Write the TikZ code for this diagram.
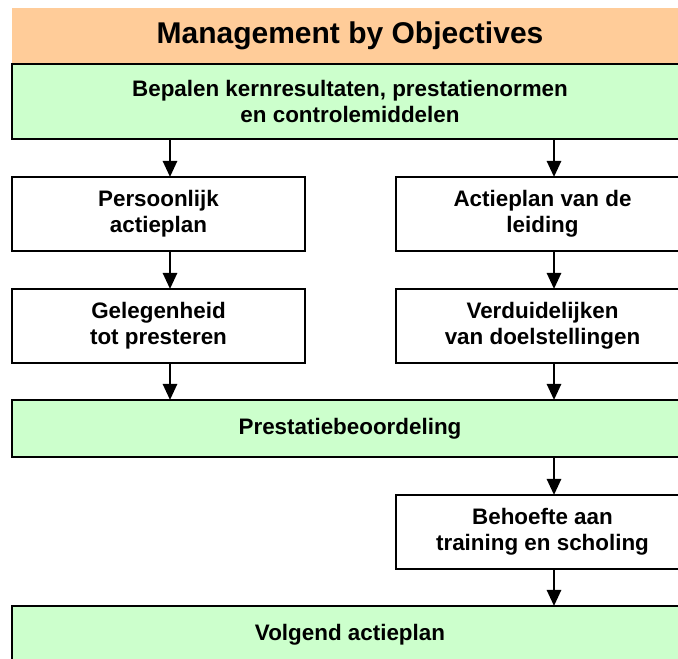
\documentclass[tikz,border=0pt]{standalone}
\usepackage{fontspec}
\setmainfont{Liberation Sans}
\usetikzlibrary{positioning,arrows.meta}
\definecolor{oranje}{HTML}{FFCC99}
\definecolor{groen}{HTML}{CCFFCC}

\begin{document}
\begin{tikzpicture}
[x=1pt, y=1pt, inner sep=0pt, outer sep=0pt,
 breed/.style={draw, line width=1.6pt, fill=groen, minimum width=676pt, align=center,
   font=\bfseries\fontsize{22.4}{26}\selectfont},
 vak/.style={draw, line width=1.6pt, fill=white, minimum width=293pt, minimum height=74pt, align=center,
   font=\bfseries\fontsize{22.4}{26}\selectfont},
 pijl/.style={line width=2.6pt, -{Triangle[width=14pt,length=16pt]}}]
%[node distance = 38 pt]
\clip (0,0) rectangle (678,659);

\node (titel)[fill=oranje, minimum width=676pt, minimum height=56pt, anchor=north west,
  font=\bfseries\fontsize{30}{36}\selectfont] at (12,651) {Management by Objectives};
\node (kern)[breed, minimum height=75pt, below right = 0pt and 0pt of titel.south west]
  {Bepalen kernresultaten, prestatienormen\\en controlemiddelen};

\node (pers)[vak, below right = 38pt and 0pt of kern.south west] {Persoonlijk\\actieplan};
\node (geleg)[vak, below = 38pt of pers] {Gelegenheid\\tot presteren};
\node (actie)[vak, right = 91pt of pers] {Actieplan van de\\leiding};
\node (verd)[vak, below = 38pt of actie] {Verduidelijken\\van doelstellingen};

\node (prest)[breed, minimum height=57pt, below right = 37pt and 0pt of geleg.south west]
  {Prestatiebeoordeling};
\node (behoefte)[vak, below right = 38pt and 384pt of prest.south west]
  {Behoefte aan\\training en scholing};
\node (volgend)[breed, minimum height=57pt, below right = 37pt and -384pt of behoefte.south west]
  {Volgend actieplan};

\draw[pijl] ([xshift=11.5pt]pers.north |- kern.south) -- ([xshift=11.5pt]pers.north);
\draw[pijl] ([xshift=11.5pt]actie.north |- kern.south) -- ([xshift=11.5pt]actie.north);
\draw[pijl] ([xshift=11.5pt]pers.south) -- ([xshift=11.5pt]geleg.north);
\draw[pijl] ([xshift=11.5pt]actie.south) -- ([xshift=11.5pt]verd.north);
\draw[pijl] ([xshift=11.5pt]geleg.south) -- ([xshift=11.5pt]geleg.south |- prest.north);
\draw[pijl] ([xshift=11.5pt]verd.south) -- ([xshift=11.5pt]verd.south |- prest.north);
\draw[pijl] ([xshift=11.5pt]behoefte.north |- prest.south) -- ([xshift=11.5pt]behoefte.north);
\draw[pijl] ([xshift=11.5pt]behoefte.south) -- ([xshift=11.5pt]behoefte.south |- volgend.north);

\end{tikzpicture}
\end{document}
